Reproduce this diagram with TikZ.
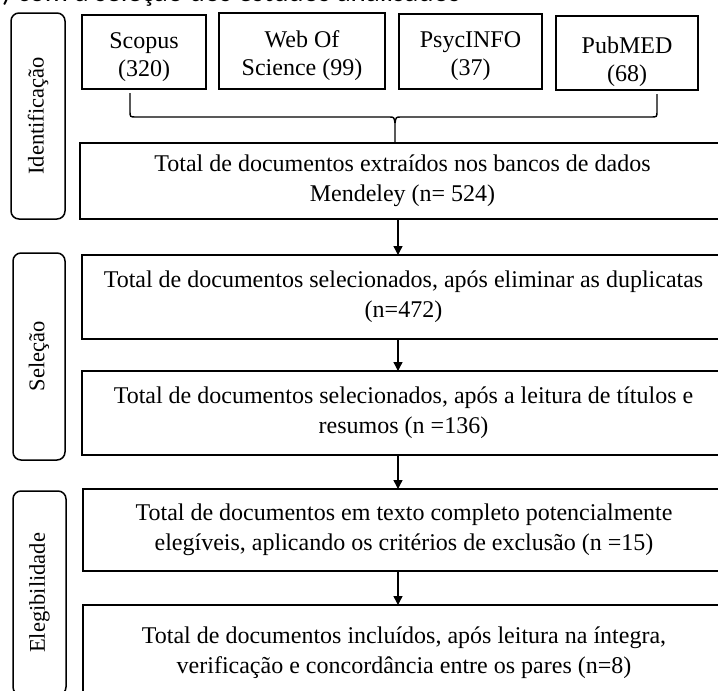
\documentclass[tikz,border=0pt]{standalone}
\usepackage{fontspec}
\setmainfont{Liberation Serif}
\newfontfamily\capfont{Carlito}
\usetikzlibrary{arrows.meta}
\begin{document}
\begin{tikzpicture}[x=1pt,y=1pt,
  every node/.style={inner sep=0pt, outer sep=0pt},
  flowbox/.style={draw, line width=1.5pt, align=center, font=\fontsize{24}{30}\selectfont},
  srcbox/.style={draw, line width=1.5pt},
  srctext/.style={align=center, font=\fontsize{24}{28}\selectfont},
  stage/.style={draw, line width=1.5pt, rounded corners=8pt, rotate=90, font=\fontsize{22.5}{27}\selectfont},
  arr/.style={line width=1.4pt, -{Triangle[width=9pt,length=9pt]}},
  brace/.style={line width=1.4pt}
]
\useasboundingbox (0,0) rectangle (718,-691);

% caption, cut off at the very top as in the reference
\node[anchor=base west, font=\capfont\fontsize{29}{34}\selectfont] (cap) at (-13,-1) {b) com a seleção dos estudos analisados};

% stage labels
\node[stage, minimum width=206pt, minimum height=54pt] (ident) at (38,-116) {Identificação};
\node[stage, minimum width=207pt, minimum height=52pt] (sel) at (39,-356.5) {Seleção};
\node[stage, minimum width=204pt, minimum height=53pt] (eleg) at (39.5,-593) {Elegibilidade};

% source boxes
\node[srcbox, minimum width=124pt, minimum height=74pt] (scopus) at (144,-52) {};
\node[srctext] (tscopus) at ([yshift=-5pt]scopus.center) {Scopus\\(320)};
\node[srcbox, minimum width=166pt, minimum height=76pt] (wos) at (302,-51) {};
\node[srctext] (twos) at ([yshift=-5pt]wos.center) {Web Of\\Science (99)};
\node[srcbox, minimum width=143pt, minimum height=75pt] (psyc) at (470.5,-51.5) {};
\node[srctext] (tpsyc) at ([yshift=-5pt]psyc.center) {PsycINFO\\(37)};
\node[srcbox, minimum width=142pt, minimum height=74pt] (pubmed) at (627,-53) {};
\node[srctext] (tpubmed) at ([yshift=-9pt]pubmed.center) {PubMED\\(68)};

% main flow boxes
\node[flowbox, minimum width=645pt, minimum height=76pt] (box1) at (402.5,-181)
  {Total de documentos extraídos nos bancos de dados\\Mendeley (n= 524)};
\node[flowbox, minimum width=643pt, minimum height=84pt] (box2) at (403.5,-297)
  {Total de documentos selecionados, após eliminar as duplicatas\\(n=472)};
\node[flowbox, minimum width=643pt, minimum height=84pt] (box3) at (403.5,-413)
  {Total de documentos selecionados, após a leitura de títulos e\\resumos (n =136)};
\node[flowbox, minimum width=642pt, minimum height=82pt] (box4) at (404,-530)
  {Total de documentos em texto completo potencialmente\\elegíveis, aplicando os critérios de exclusão (n =15)};
\node[flowbox, minimum width=642pt, minimum height=95pt] (box5) at (404,-652.5)
  {Total de documentos incluídos, após leitura na íntegra,\\verificação e concordância entre os pares (n=8)};

% brace joining the sources
\coordinate (bL) at (130,-93);
\coordinate (bR) at (657,-94);
\coordinate (bM) at (395,-123);
\draw[brace] (bL) -- (130,-111) .. controls (130,-117) .. (136,-117) -- (389,-117) .. controls (394,-117) .. (bM) -- (box1.north -| bM);
\draw[brace] (bR) -- (657,-111) .. controls (657,-117) .. (651,-117) -- (401,-117) .. controls (396,-117) .. (bM);

% arrows
\coordinate (ax) at (398,0);
\draw[arr] (box1.south -| ax) -- (box2.north -| ax);
\draw[arr] (box2.south -| ax) -- (box3.north -| ax);
\draw[arr] (box3.south -| ax) -- (box4.north -| ax);
\draw[arr] (box4.south -| ax) -- (box5.north -| ax);
\end{tikzpicture}
\end{document}
